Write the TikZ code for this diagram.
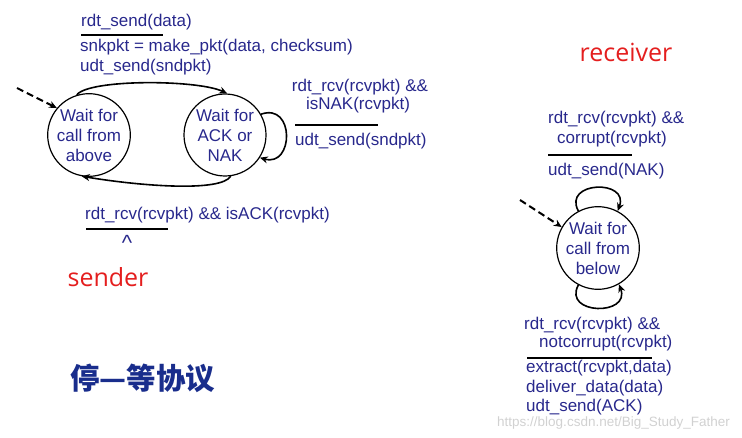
\documentclass[tikz,border=0pt]{standalone}
\usepackage{fontspec}
\setmainfont{Liberation Sans}
\newfontfamily\cjkfont{Noto Sans CJK SC}
\newfontfamily\labfont{Open Sans}
\usetikzlibrary{arrows.meta}
\definecolor{txtblue}{RGB}{40,40,140}
\definecolor{lblred}{RGB}{228,30,30}
\definecolor{cjkblue}{RGB}{25,45,140}
\begin{document}
\begin{tikzpicture}[x=1pt,y=1pt,
  lbl/.style={text=txtblue,font=\fontsize{17}{20}\selectfont,inner sep=0pt},
  st/.style={draw,circle,line width=1.2pt,minimum size=80pt,inner sep=0pt,align=center,text=txtblue,font=\fontsize{17}{20}\selectfont},
  bar/.style={line width=2pt},
  tr/.style={line width=1.6pt,-{Stealth[length=8pt,width=7pt]}},
  init/.style={line width=2pt,dash pattern=on 7pt off 4pt,-{Stealth[length=8pt,width=7pt]}},
  role/.style={text=lblred,font=\labfont\fontsize{25}{28}\selectfont,inner sep=0pt}]
\useasboundingbox (0,0) rectangle (742,437);
% sender
\node[st] (s1) at (89,302) {Wait for\\call from\\above};
\node[st,minimum size=82pt] (s2) at (225,302) {Wait for\\ACK or\\NAK};
\coordinate (sinit) at (17,349);
\draw[init] (sinit) -- (s1.140);
\draw[tr] (s1.107) .. controls +(12,16) and +(-30,14) .. (s2.87);
\draw[tr] (s2.-82) .. controls +(-10,-16) and +(60,-10) .. (s1.-100);
\draw[tr] (s2.30) .. controls +(34,12) and +(34,-10) .. (s2.-33);
\node[lbl,anchor=west] (t1) at (81,415) {rdt\_send(data)};
\coordinate (b1a) at (81,402); \coordinate (b1b) at (163,402);
\draw[bar] (b1a) -- (b1b);
\node[lbl,anchor=west] (t2) at (80,390) {snkpkt = make\_pkt(data, checksum)};
\node[lbl,anchor=west] (t3) at (80,370) {udt\_send(sndpkt)};
\node[lbl] (t4) at (360,350) {rdt\_rcv(rcvpkt) \&\&};
\node[lbl] (t5) at (358,332) {isNAK(rcvpkt)};
\coordinate (b2a) at (295,312); \coordinate (b2b) at (378,312);
\draw[bar] (b2a) -- (b2b);
\node[lbl,anchor=west] (t6) at (295,296) {udt\_send(sndpkt)};
\node[lbl,anchor=west] (t7) at (85,222) {rdt\_rcv(rcvpkt) \&\& isACK(rcvpkt)};
\coordinate (b3a) at (86,208); \coordinate (b3b) at (168,208);
\draw[bar] (b3a) -- (b3b);
\node[lbl,font=\fontsize{22}{22}\selectfont] (t8) at (127,194) {\textasciicircum};
\node[role] (snd) at (108,160) {sender};
\node[anchor=west,inner sep=0pt,text=cjkblue,font=\cjkfont\bfseries\fontsize{29.5}{32}\selectfont] (cn) at (70,59) {停—等协议};
% receiver
\node[role] (rcv) at (626,385) {receiver};
\node[lbl,anchor=west] (r1) at (548,318) {rdt\_rcv(rcvpkt) \&\&};
\node[lbl,anchor=west] (r2) at (557,298) {corrupt(rcvpkt)};
\coordinate (b4a) at (548,282); \coordinate (b4b) at (632,282);
\draw[bar] (b4a) -- (b4b);
\node[lbl,anchor=west] (r3) at (548,266) {udt\_send(NAK)};
\node[st] (w) at (598,189) {Wait for\\call from\\below};
\coordinate (rinit) at (520,237);
\draw[init] (rinit) -- (w.150);
\draw[tr] (w.118) .. controls +(-16,30) and +(12,32) .. (w.62);
\draw[tr] (w.-118) .. controls +(-16,-30) and +(12,-32) .. (w.-60);
\node[lbl,anchor=west] (r4) at (524,112) {rdt\_rcv(rcvpkt) \&\&};
\node[lbl,anchor=west] (r5) at (539,94) {notcorrupt(rcvpkt)};
\coordinate (b5a) at (527,79); \coordinate (b5b) at (652,79);
\draw[bar] (b5a) -- (b5b);
\node[lbl,anchor=west] (r6) at (526,69) {extract(rcvpkt,data)};
\node[lbl,anchor=west] (r7) at (526,49) {deliver\_data(data)};
\node[lbl,anchor=west] (r8) at (526,30) {udt\_send(ACK)};
\node[anchor=west,inner sep=0pt,text=black!18,font=\fontsize{13.5}{14}\selectfont] (wm) at (497,14) {https://blog.csdn.net/Big\_Study\_Father};
\end{tikzpicture}
\end{document}
